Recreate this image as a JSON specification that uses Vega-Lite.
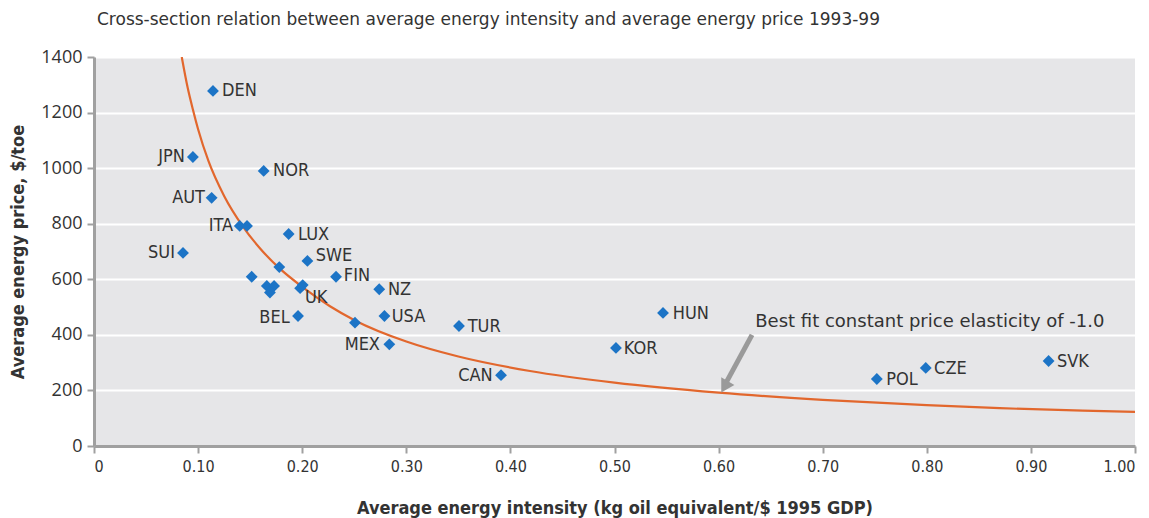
{
  "$schema": "https://vega.github.io/schema/vega-lite/v6.json",
  "width": 1041,
  "height": 389,
  "autosize": {"type": "none"},
  "padding": {"left": 94, "top": 57, "right": 14, "bottom": 72},
  "background": "white",
  "title": {
    "text": "Cross-section relation between average energy intensity and average energy price 1993-99",
    "anchor": "start",
    "frame": "group",
    "offset": 19,
    "dx": 3,
    "fontSize": 17,
    "font": "DejaVu Sans",
    "fontWeight": "normal",
    "color": "#333333"
  },
  "config": {
    "view": {"fill": "#e6e6e8", "stroke": null},
    "font": "DejaVu Sans Condensed, DejaVu Sans"
  },
  "datasets": {
    "pts": [
      {"x": 0.1143, "y": 1278}, {"x": 0.095, "y": 1040}, {"x": 0.163, "y": 990},
      {"x": 0.113, "y": 893}, {"x": 0.140, "y": 792}, {"x": 0.147, "y": 792},
      {"x": 0.187, "y": 763}, {"x": 0.0855, "y": 695}, {"x": 0.205, "y": 666},
      {"x": 0.178, "y": 644}, {"x": 0.1515, "y": 609}, {"x": 0.2325, "y": 609},
      {"x": 0.166, "y": 576}, {"x": 0.173, "y": 576}, {"x": 0.169, "y": 552},
      {"x": 0.198, "y": 568}, {"x": 0.2005, "y": 579}, {"x": 0.274, "y": 564},
      {"x": 0.196, "y": 468}, {"x": 0.279, "y": 468}, {"x": 0.2507, "y": 444},
      {"x": 0.2837, "y": 366}, {"x": 0.3506, "y": 432}, {"x": 0.391, "y": 255},
      {"x": 0.5014, "y": 353}, {"x": 0.5466, "y": 479}, {"x": 0.752, "y": 241},
      {"x": 0.799, "y": 281}, {"x": 0.917, "y": 306}
    ],
    "curve": [
      {"x": 0.0843, "y": 1400}, {"x": 0.09, "y": 1289}, {"x": 0.095, "y": 1211},
      {"x": 0.1, "y": 1140}, {"x": 0.11, "y": 1025}, {"x": 0.125, "y": 900},
      {"x": 0.1434, "y": 788}, {"x": 0.16, "y": 709}, {"x": 0.178, "y": 640},
      {"x": 0.201, "y": 570}, {"x": 0.2267, "y": 503}, {"x": 0.2507, "y": 452},
      {"x": 0.3, "y": 376}, {"x": 0.35, "y": 322}, {"x": 0.4188, "y": 270},
      {"x": 0.5, "y": 228}, {"x": 0.6, "y": 192}, {"x": 0.7, "y": 166},
      {"x": 0.8, "y": 147}, {"x": 0.87, "y": 136}, {"x": 0.95, "y": 127},
      {"x": 1.0, "y": 123}
    ],
    "labR": [
      {"x": 0.123, "y": 1278, "t": "DEN"}, {"x": 0.172, "y": 990, "t": "NOR"},
      {"x": 0.196, "y": 760, "t": "LUX"}, {"x": 0.213, "y": 684, "t": "SWE"},
      {"x": 0.240, "y": 612, "t": "FIN"}, {"x": 0.2824, "y": 561, "t": "NZ"},
      {"x": 0.2027, "y": 533, "t": "UK"}, {"x": 0.286, "y": 464, "t": "USA"},
      {"x": 0.359, "y": 428, "t": "TUR"}, {"x": 0.509, "y": 349, "t": "KOR"},
      {"x": 0.556, "y": 475, "t": "HUN"}, {"x": 0.761, "y": 238, "t": "POL"},
      {"x": 0.807, "y": 277, "t": "CZE"}, {"x": 0.925, "y": 302, "t": "SVK"}
    ],
    "labL": [
      {"x": 0.0874, "y": 1040, "t": "JPN"}, {"x": 0.1066, "y": 893, "t": "AUT"},
      {"x": 0.1335, "y": 790, "t": "ITA"}, {"x": 0.0778, "y": 695, "t": "SUI"},
      {"x": 0.188, "y": 461, "t": "BEL"}, {"x": 0.2747, "y": 363, "t": "MEX"},
      {"x": 0.383, "y": 252, "t": "CAN"}
    ],
    "arrow": [{"x": 0.6321, "y": 400, "x2": 0.6071, "y2": 227}],
    "head": [{"x": 0.6057, "y": 213}],
    "note": [{"x": 0.6352, "y": 446, "t": "Best fit constant price elasticity of -1.0"}]
  },
  "encoding": {
    "x": {
      "field": "x", "type": "quantitative",
      "scale": {"domain": [0, 1], "nice": false},
      "axis": {
        "values": [0, 0.1, 0.2, 0.3, 0.4, 0.5, 0.6, 0.7, 0.8, 0.9, 1.0],
        "labelExpr": "datum.value == 0 ? '0' : format(datum.value, '.2f')",
        "title": "Average energy intensity (kg oil equivalent/$ 1995 GDP)",
        "titleFontSize": 18, "titleFontWeight": "bold", "titleColor": "#333333",
        "titleBaseline": "middle", "titleY": 62,
        "labelFontSize": 16, "labelColor": "#333333", "labelPadding": 5,
        "grid": false,
        "domainColor": "#a0a0a0", "domainWidth": 3,
        "tickColor": "#a0a0a0", "tickWidth": 2, "tickSize": 7
      }
    },
    "y": {
      "field": "y", "type": "quantitative",
      "scale": {"domain": [0, 1400], "nice": false},
      "axis": {
        "values": [0, 200, 400, 600, 800, 1000, 1200, 1400],
        "format": "d",
        "title": "Average energy price, $/toe",
        "titleFontSize": 18, "titleFontWeight": "bold", "titleColor": "#333333",
        "titleX": -76, "titleBaseline": "middle",
        "labelFont": "Open Sans", "labelFontSize": 18, "labelColor": "#333333", "labelPadding": 5,
        "grid": true, "gridColor": "#ffffff", "gridWidth": 2,
        "domainColor": "#a0a0a0", "domainWidth": 3,
        "tickColor": "#a0a0a0", "tickWidth": 2, "tickSize": 7
      }
    }
  },
  "layer": [
    {
      "data": {"name": "curve"},
      "mark": {"type": "line", "color": "#e2672d", "strokeWidth": 2.2, "clip": true, "interpolate": "monotone"},
      "encoding": {}
    },
    {
      "data": {"name": "arrow"},
      "mark": {"type": "rule", "color": "#9a9a9a", "strokeWidth": 5},
      "encoding": {"x2": {"field": "x2"}, "y2": {"field": "y2"}}
    },
    {
      "data": {"name": "head"},
      "mark": {"type": "point", "shape": "triangle-up", "filled": true, "color": "#9a9a9a", "opacity": 1, "size": 230, "angle": 210},
      "encoding": {}
    },
    {
      "data": {"name": "pts"},
      "mark": {"type": "point", "shape": "diamond", "filled": true, "color": "#1c74c6", "opacity": 1, "size": 140},
      "encoding": {}
    },
    {
      "data": {"name": "labR"},
      "mark": {"type": "text", "align": "left", "baseline": "middle", "fontSize": 18, "color": "#333333"},
      "encoding": {"text": {"field": "t"}}
    },
    {
      "data": {"name": "labL"},
      "mark": {"type": "text", "align": "right", "baseline": "middle", "fontSize": 18, "color": "#333333"},
      "encoding": {"text": {"field": "t"}}
    },
    {
      "data": {"name": "note"},
      "mark": {"type": "text", "align": "left", "baseline": "middle", "fontSize": 18, "font": "DejaVu Sans", "color": "#333333"},
      "encoding": {"text": {"field": "t"}}
    }
  ]
}
